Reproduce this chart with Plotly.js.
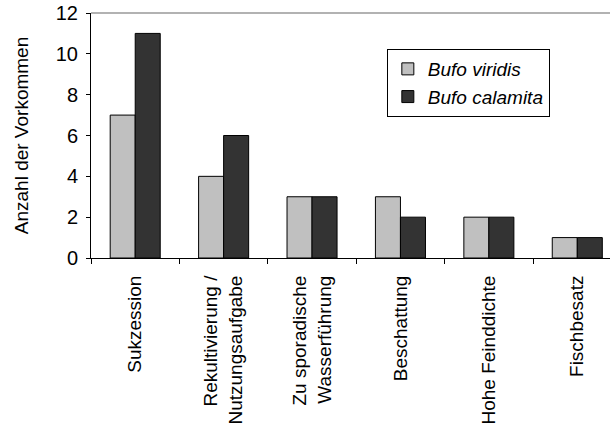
<!DOCTYPE html>
<html>
<head>
<meta charset="utf-8">
<script src="https://cdn.plot.ly/plotly-3.0.1.min.js"></script>
<style>html,body{margin:0;padding:0;background:#fff;}#chart{width:610px;height:434px;}</style>
</head>
<body>
<div id="chart"></div>
<script>
const categories = ["Sukzession", "Rekultivierung /<br>Nutzungsaufgabe", "Zu sporadische<br>Wasserführung", "Beschattung", "Hohe Feinddichte", "Fischbesatz"];
const bufoViridis = [7, 4, 3, 3, 2, 1];
const bufoCalamita = [11, 6, 3, 2, 2, 1];
const seriesNames = ["<i>Bufo viridis</i>", "<i>Bufo calamita</i>"];
const yTicks = [0, 2, 4, 6, 8, 10, 12];

const font = "Liberation Sans, Arial, sans-serif";
const traces = [
  {type: "bar", name: seriesNames[0], x: categories, y: bufoViridis,
   marker: {color: "#c0c0c0", line: {color: "#000", width: 1}}},
  {type: "bar", name: seriesNames[1], x: categories, y: bufoCalamita,
   marker: {color: "#333333", line: {color: "#000", width: 1}}}
];
const layout = {
  width: 610, height: 434,
  margin: {l: 91, r: 0, t: 13, b: 176},
  paper_bgcolor: "#fff", plot_bgcolor: "#fff",
  font: {family: font, color: "#000", size: 18},
  barmode: "group", bargap: 0.434, bargroupgap: 0,
  showlegend: true,
  legend: {x: 0.57, y: 0.853, xanchor: "left", yanchor: "top",
           bordercolor: "#000", borderwidth: 1, bgcolor: "#fff",
           font: {size: 19, family: font}, tracegroupgap: 4},
  xaxis: {type: "category", range: [-0.5, 5.37], tickangle: -90,
          showline: true, linecolor: "#000", linewidth: 1,
          ticks: "outside", ticklen: 5, tickcolor: "#000", tickson: "boundaries",
          tickfont: {size: 19, family: font}, showgrid: false, zeroline: false,
          fixedrange: true, automargin: false, ticklabelstandoff: 9},
  yaxis: {range: [0, 12], tickvals: yTicks, showline: true, linecolor: "#000", linewidth: 1,
          ticks: "outside", ticklen: 4, tickcolor: "#000", showgrid: false, zeroline: false,
          tickfont: {size: 20, family: font}, automargin: false, ticklabelstandoff: 4,
          title: {text: "Anzahl der Vorkommen", font: {size: 19, family: font}, standoff: 22}},
  shapes: [{type: "line", xref: "paper", yref: "paper", x0: 0, x1: 1, y0: 1, y1: 1,
            line: {color: "#999", width: 1.5}}]
};
Plotly.newPlot("chart", traces, layout, {displayModeBar: false, staticPlot: true});
</script>
</body>
</html>
